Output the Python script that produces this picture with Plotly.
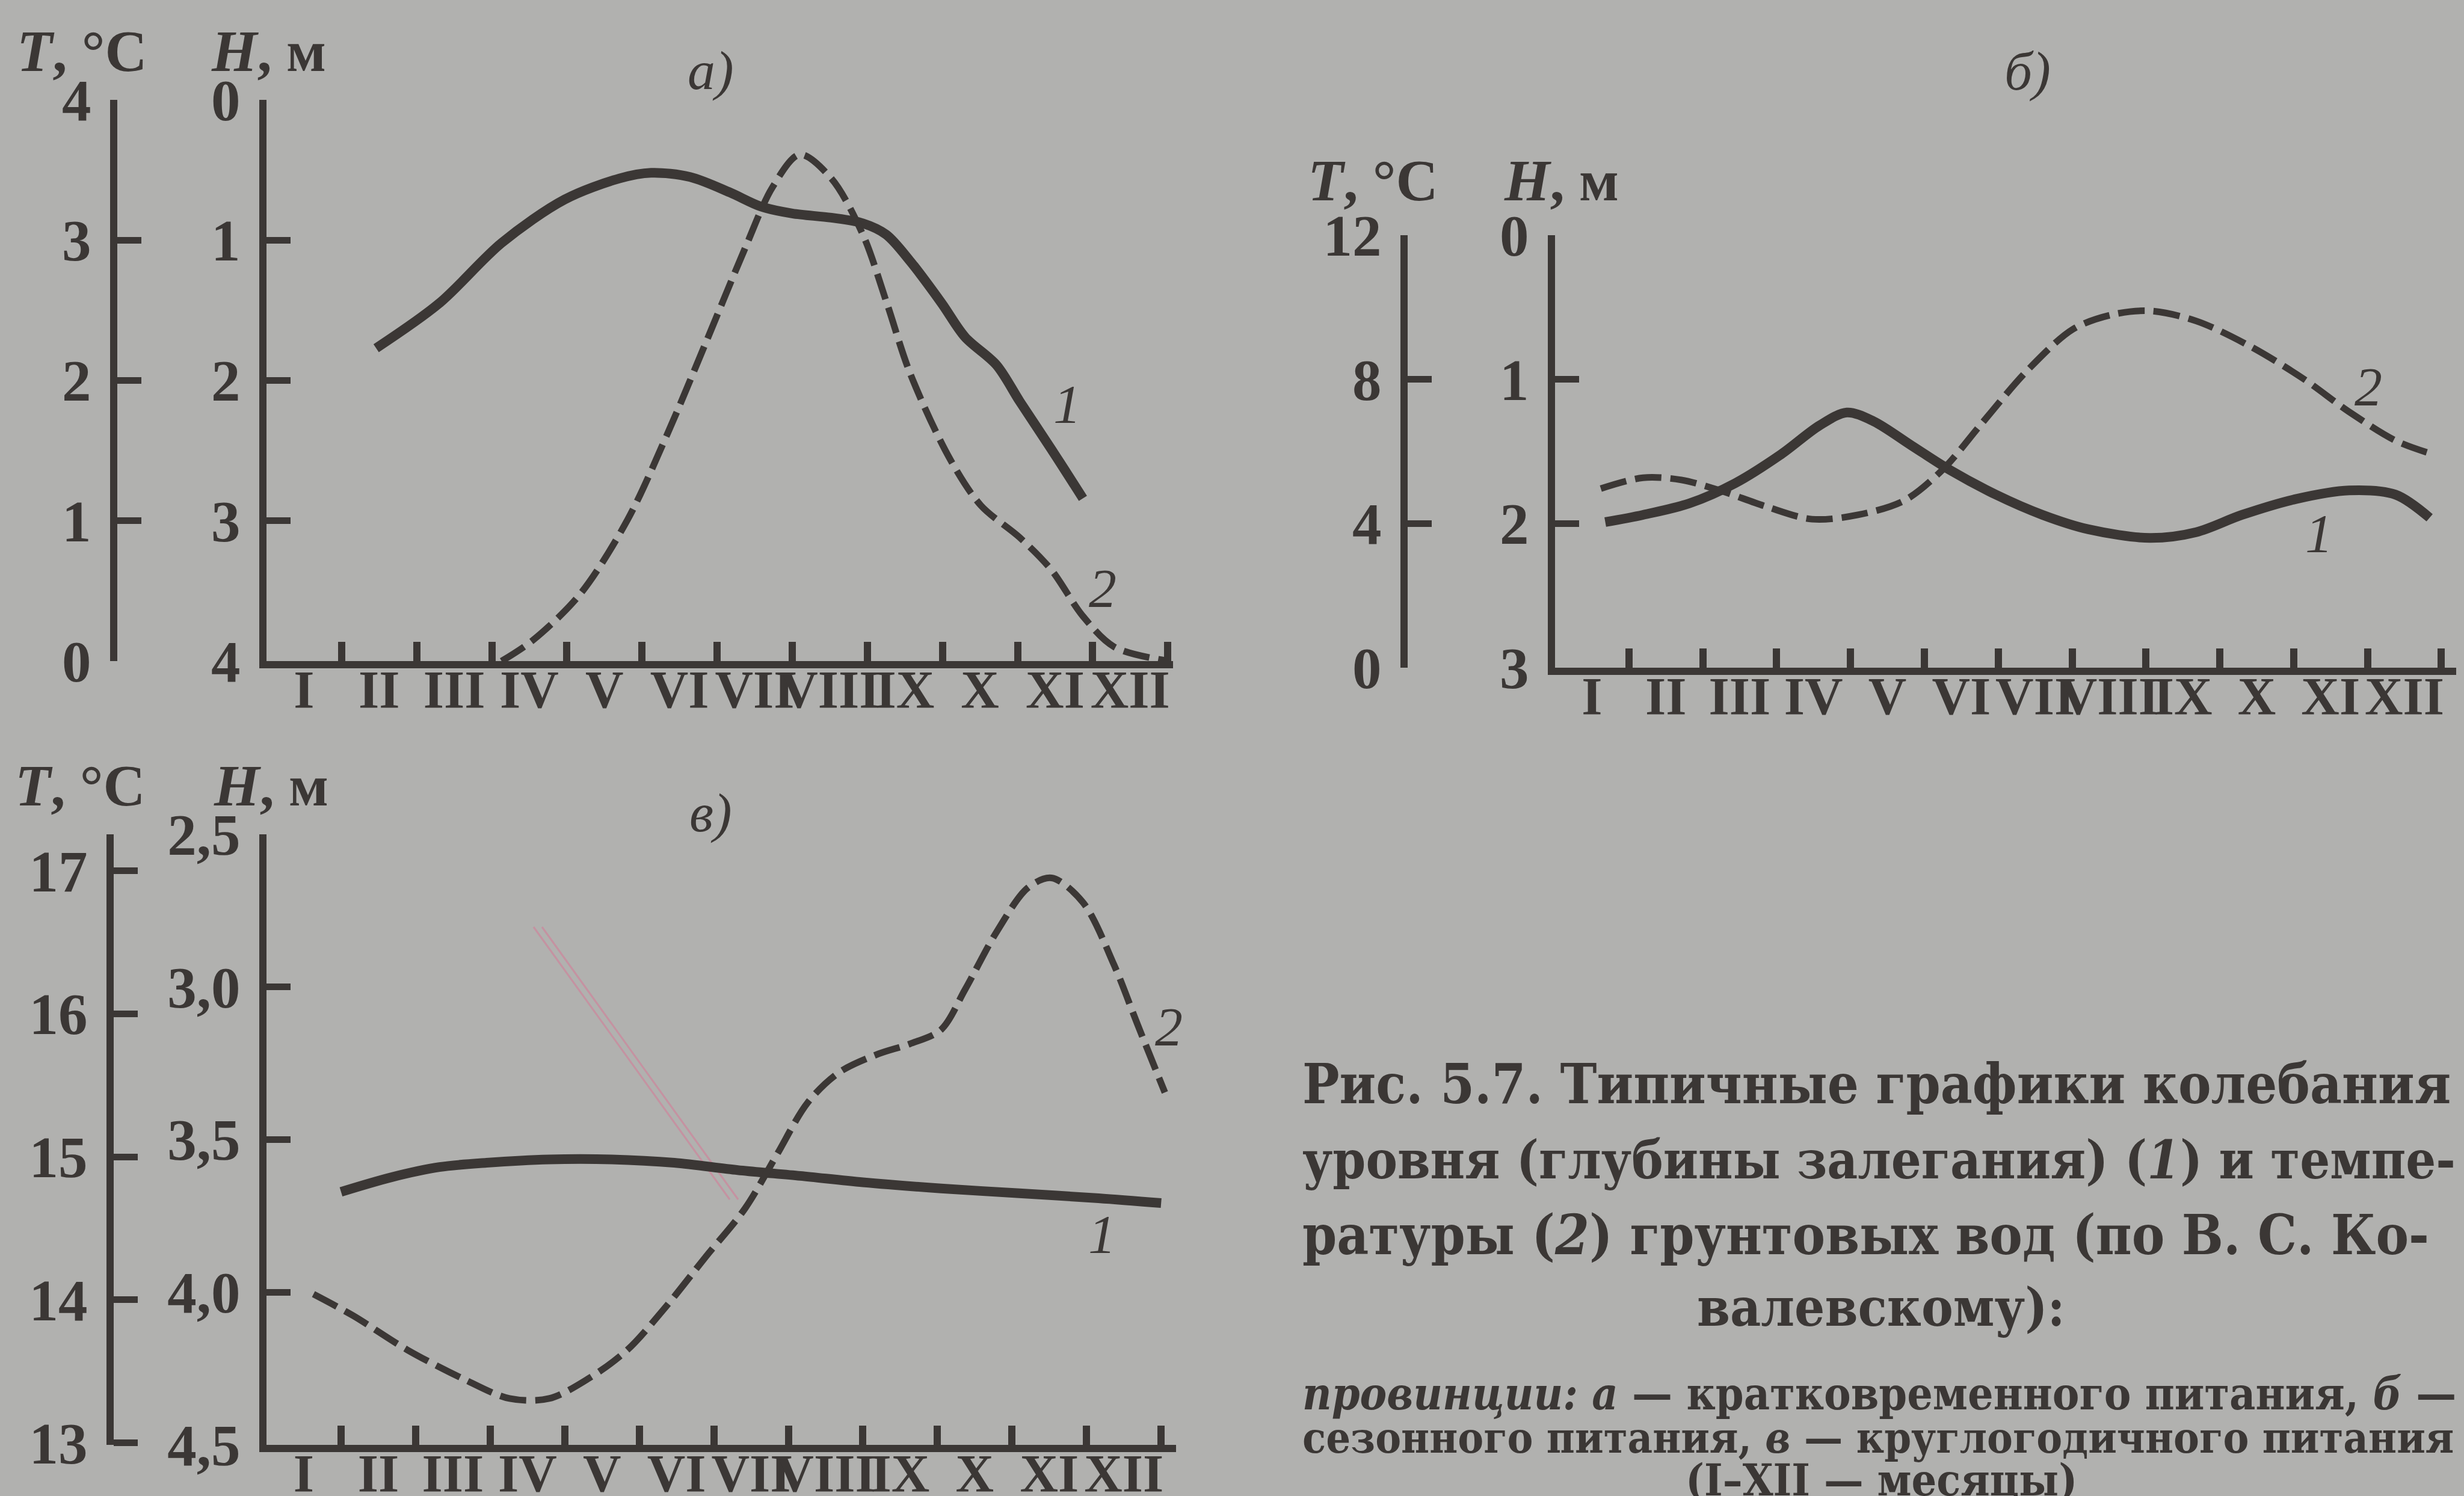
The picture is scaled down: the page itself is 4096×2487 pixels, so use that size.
import plotly.graph_objects as go

W, H = 4096, 2487
BG = "#b1b1af"
INK = "#3b3735"
SERIF = "Liberation Serif, Times New Roman, serif"
CAP = "DejaVu Serif Condensed, DejaVu Serif, serif"

months = ["I", "II", "III", "IV", "V", "VI", "VII", "VIII", "IX", "X", "XI", "XII"]
month_pos = [i + 0.5 for i in range(12)]
month_bounds = list(range(1, 13))

# ---- panel а) : short-term recharge ----
a_lvl_x = [1.46, 2.30, 3.13, 3.97, 4.70, 5.12, 5.64, 6.17, 6.58, 7.00, 7.52, 7.94,
           8.25, 8.57, 8.99, 9.30, 9.72, 10.03, 10.45, 10.87]
a_lvl_h = [1.77, 1.45, 1.02, 0.71, 0.56, 0.52, 0.55, 0.66, 0.76, 0.81, 0.84, 0.88,
           0.96, 1.15, 1.45, 1.69, 1.89, 2.15, 2.49, 2.84]
a_tmp_x = [3.13, 3.55, 4.18, 4.81, 5.33, 5.85, 6.37, 6.74, 7.10, 7.52, 7.94, 8.26,
           8.57, 9.09, 9.51, 10.03, 10.45, 10.87, 11.29, 12.02]
a_tmp_t = [0.0, 0.15, 0.48, 1.01, 1.61, 2.27, 2.94, 3.38, 3.61, 3.44, 3.04, 2.55,
           2.05, 1.45, 1.11, 0.88, 0.65, 0.32, 0.10, 0.0]
a_h_ticks = [0, 1, 2, 3, 4]
a_h_text = ["0", "1", "2", "3", "4"]
a_t_ticks = [0, 1, 2, 3, 4]
a_t_text = ["0", "1", "2", "3", "4"]

# ---- panel б) : seasonal recharge ----
b_lvl_x = [0.68, 1.19, 1.82, 2.44, 3.06, 3.58, 3.95, 4.31, 4.83, 5.35, 5.97, 6.60,
           7.22, 8.05, 8.68, 9.30, 10.03, 10.75, 11.38, 11.84]
b_lvl_h = [1.99, 1.94, 1.86, 1.72, 1.52, 1.32, 1.23, 1.29, 1.46, 1.63, 1.80, 1.94,
           2.04, 2.10, 2.06, 1.94, 1.83, 1.77, 1.80, 1.96]
b_tmp_x = [0.62, 1.19, 1.71, 2.23, 2.86, 3.48, 4.10, 4.73, 5.25, 5.77, 6.39, 7.01,
           7.53, 8.05, 8.68, 9.40, 10.13, 10.75, 11.38, 11.84]
b_tmp_t = [4.97, 5.27, 5.21, 4.92, 4.47, 4.12, 4.24, 4.64, 5.50, 6.76, 8.24, 9.39,
           9.79, 9.90, 9.62, 8.93, 8.02, 7.10, 6.30, 5.95]
b_h_ticks = [0, 1, 2, 3]
b_h_text = ["0", "1", "2", "3"]
b_t_ticks = [0, 4, 8, 12]
b_t_text = ["0", "4", "8", "12"]

# ---- panel в) : year-round recharge ----
c_lvl_x = [1.00, 1.68, 2.32, 2.95, 3.79, 4.63, 5.47, 6.32, 7.16, 8.00, 9.05, 10.10,
           11.16, 12.00]
c_lvl_h = [3.671, 3.623, 3.590, 3.576, 3.565, 3.565, 3.576, 3.600, 3.619, 3.640,
           3.660, 3.676, 3.692, 3.708]
c_tmp_x = [0.63, 1.16, 1.89, 2.63, 3.26, 3.79, 4.32, 4.84, 5.37, 5.89, 6.42, 6.84,
           7.26, 7.68, 8.21, 8.63, 9.05, 9.37, 9.79, 10.21, 10.53, 10.95, 11.37,
           11.68, 12.05]
c_tmp_t = [14.04, 13.89, 13.65, 13.45, 13.31, 13.31, 13.45, 13.65, 13.96, 14.30,
           14.64, 15.01, 15.38, 15.59, 15.72, 15.79, 15.89, 16.17, 16.57, 16.88,
           16.95, 16.78, 16.34, 15.93, 15.45]
c_h_ticks = [2.5, 3.0, 3.5, 4.0, 4.5]
c_h_text = ["2,5", "3,0", "3,5", "4,0", "4,5"]
c_t_ticks = [13, 14, 15, 16, 17]
c_t_text = ["13", "14", "15", "16", "17"]


def X(p):
    return p / W


def Y(p):
    return 1 - p / H


fig = go.Figure()


def add_curve(x, y, xa, ya, solid):
    fig.add_trace(go.Scatter(
        x=x, y=y, xaxis=xa, yaxis=ya, mode="lines", hoverinfo="skip", showlegend=False,
        line=dict(color=INK, width=16 if solid else 11,
                  dash="solid" if solid else "44px,15px",
                  shape="spline", smoothing=0.9)))


add_curve(a_lvl_x, a_lvl_h, "x", "y", True)
add_curve(a_tmp_x, a_tmp_t, "x", "y2", False)
add_curve(b_lvl_x, b_lvl_h, "x2", "y3", True)
add_curve(b_tmp_x, b_tmp_t, "x2", "y4", False)
add_curve(c_lvl_x, c_lvl_h, "x3", "y5", True)
add_curve(c_tmp_x, c_tmp_t, "x3", "y6", False)

tick_font = dict(family=SERIF, size=97, color=INK, weight=700)
month_font = dict(family=SERIF, size=88, color=INK, weight=700)


def xcfg(x0, x1, rng, anchor):
    return dict(domain=[X(x0), X(x1)], range=rng, anchor=anchor, automargin=False,
                showline=True, linewidth=12, linecolor=INK,
                showgrid=False, zeroline=False,
                tickmode="array", tickvals=month_pos, ticktext=months,
                ticks="", tickangle=0, tickfont=month_font, ticklabelstandoff=-41,
                minor=dict(tickmode="array", tickvals=month_bounds, ticks="inside",
                           ticklen=32, tickwidth=12, tickcolor=INK, showgrid=False),
                fixedrange=True)


def ycfg(rng, ticks, text, **kw):
    d = dict(range=rng, showline=True, linewidth=12, linecolor=INK, automargin=False,
             showgrid=False, zeroline=False,
             tickmode="array", tickvals=ticks, ticktext=text,
             ticks="inside", ticklen=40, tickwidth=11, tickcolor=INK,
             tickfont=tick_font, ticklabelstandoff=12, fixedrange=True)
    d.update(kw)
    return d


layout = dict(
    width=W, height=H, margin=dict(l=0, r=0, t=0, b=0, autoexpand=False),
    paper_bgcolor=BG, plot_bgcolor="rgba(0,0,0,0)", showlegend=False,
    xaxis=xcfg(443, 1950, [0, 12.07], "y"),
    yaxis=ycfg([4, 0], a_h_ticks, a_h_text, domain=[Y(1099), Y(166)], anchor="x"),
    yaxis2=ycfg([0, 4], a_t_ticks, a_t_text, overlaying="y", anchor="free",
                position=X(189), side="left"),
    xaxis2=xcfg(2585, 4083, [0, 12.2], "y3"),
    yaxis3=ycfg([3, 0], b_h_ticks, b_h_text, domain=[Y(1110), Y(391)], anchor="x2"),
    yaxis4=ycfg([0, 12], b_t_ticks, b_t_text, overlaying="y3", anchor="free",
                position=X(2334), side="left"),
    xaxis3=xcfg(443, 1955, [0, 12.2], "y5"),
    yaxis5=ycfg([4.5, 2.5], c_h_ticks, c_h_text, domain=[Y(2402), Y(1387)], anchor="x3"),
    yaxis6=ycfg([12.986, 17.255], c_t_ticks, c_t_text, overlaying="y5", anchor="free",
                position=X(183), side="left"),
)
fig.update_layout(**layout)

# faint pink pen stroke that crosses panel в in the scan
for dx in (0, 14):
    fig.add_shape(type="line", xref="paper", yref="paper",
                  x0=X(887 + dx), y0=Y(1541), x1=X(1213 + dx), y1=Y(1994),
                  line=dict(color="rgba(214,120,150,0.55)", width=3), layer="below")

lab_font = dict(family=SERIF, size=97, color=INK, weight=700)
ann = []


def paper_text(txt, x, y, font, xanchor="center"):
    ann.append(dict(text=txt, x=X(x), y=Y(y), xref="paper", yref="paper",
                    xanchor=xanchor, yanchor="middle", showarrow=False, font=font))


# axis titles and panel letters
for tx, hx, yy in [(136, 446, 86), (2282, 2595, 300), (133, 450, 1306)]:
    paper_text("<i>T</i>, °C", tx, yy, lab_font)
    paper_text("<i>H</i>, м", hx, yy, lab_font)
letter_font = dict(family=SERIF, size=92, color=INK)
paper_text("<i>а)</i>", 1181, 117, letter_font)
paper_text("<i>б)</i>", 3370, 118, letter_font)
paper_text("<i>в)</i>", 1181, 1351, letter_font)

# curve numbers in data coordinates
num_font = dict(family=SERIF, size=92, color=INK)
for txt, xr, yr, xv, yv in [("1", "x", "y", 10.66, 2.17), ("2", "x", "y2", 11.13, 0.52),
                            ("2", "x2", "y4", 11.01, 7.79), ("1", "x2", "y3", 10.34, 2.07),
                            ("2", "x3", "y6", 12.1, 15.91), ("1", "x3", "y5", 11.21, 3.81)]:
    ann.append(dict(text="<i>%s</i>" % txt, x=xv, y=yv, xref=xr, yref=yr,
                    showarrow=False, font=num_font))


def cap(size):
    return dict(family=CAP, size=size, color=INK, weight=700)


# caption (justified lines in the original: sizes tuned to the line widths)
paper_text("Рис. 5.7. Типичные графики колебания", 2163, 1802, cap(91), "left")
paper_text("уровня (глубины залегания) (<i>1</i>) и темпе-", 2163, 1928, cap(87.5), "left")
paper_text("ратуры (<i>2</i>) грунтовых вод (по В. С. Ко-", 2163, 2053, cap(91), "left")
paper_text("валевскому):", 3127, 2173, cap(88))
paper_text("<i>провинции: а</i> — кратковременного питания, <i>б</i> —", 2163, 2317, cap(74.5), "left")
paper_text("сезонного питания, <i>в</i> — круглогодичного питания", 2163, 2390, cap(71.5), "left")
paper_text("(I–XII — месяцы)", 3127, 2460, cap(73))

fig.update_layout(annotations=ann)
fig.write_html("out.html")
